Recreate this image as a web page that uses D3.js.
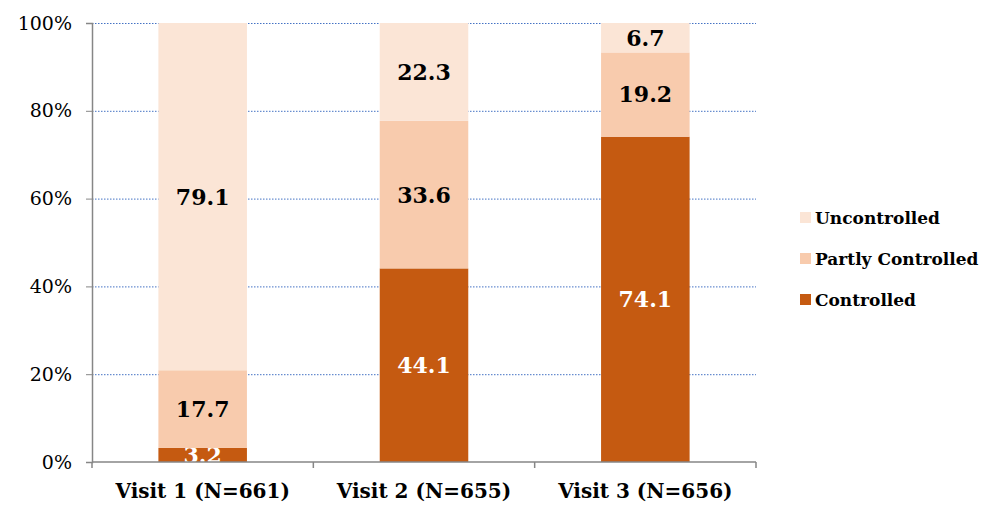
<!DOCTYPE html>
<meta charset="utf-8">
<head>
    <script src="https://d3js.org/d3.v7.min.js"></script>
    <style>
        body { margin: 0; background: #fff; }
        .grid line { stroke: #4472C4; stroke-dasharray: 1.5,1.5; }
        text { font-family: "DejaVu Serif", serif; }
    </style>
</head>
<body>
<div id="graph"></div>
<script>
    // data
    var visits = ["Visit 1 (N=661)", "Visit 2 (N=655)", "Visit 3 (N=656)"];
    var controlled = [3.2, 44.1, 74.1];
    var partly = [17.7, 33.6, 19.2];
    var uncontrolled = [79.1, 22.3, 6.7];
    var seriesNames = ["Controlled", "Partly Controlled", "Uncontrolled"];
    var yTicks = [0, 20, 40, 60, 80, 100];

    var colors = {"Controlled": "#C55A11", "Partly Controlled": "#F8CBAD", "Uncontrolled": "#FBE5D6"};
    var labelColors = {"Controlled": "#fff", "Partly Controlled": "#000", "Uncontrolled": "#000"};

    var margin = {top: 23, right: 230, bottom: 44, left: 92},
        width = 986 - margin.left - margin.right,
        height = 506 - margin.top - margin.bottom;

    var svg = d3.select("#graph")
      .append("svg")
        .attr("width", 986)
        .attr("height", 506)
      .append("g")
        .attr("transform", "translate(" + margin.left + "," + margin.top + ")");

    var table = visits.map(function(v, i) {
        return {visit: v, "Controlled": controlled[i], "Partly Controlled": partly[i], "Uncontrolled": uncontrolled[i]};
    });
    var stacked = d3.stack().keys(seriesNames)(table);

    var x = d3.scaleBand()
        .domain(visits)
        .range([0, width])
        .paddingInner(0.6)
        .paddingOuter(0.3);

    var y = d3.scaleLinear()
        .domain([0, 100])
        .range([height, 0]);

    // grid lines
    svg.append("g")
        .attr("class", "grid")
        .call(d3.axisLeft(y).tickValues(yTicks.slice(1)).tickSize(-width).tickFormat(""))
        .call(function(g) { g.select(".domain").remove(); });

    svg.append("defs").append("clipPath").attr("id", "plotclip")
      .append("rect").attr("width", width).attr("height", height);

    // bars
    var layers = svg.append("g").attr("clip-path", "url(#plotclip)")
        .selectAll("g.layer")
        .data(stacked)
        .enter().append("g")
        .attr("class", "layer")
        .attr("fill", function(d) { return colors[d.key]; });

    layers.selectAll("rect")
        .data(function(d) { return d; })
        .enter().append("rect")
        .attr("x", function(d) { return x(d.data.visit); })
        .attr("y", function(d) { return y(d[1]); })
        .attr("width", x.bandwidth())
        .attr("height", function(d) { return y(d[0]) - y(d[1]); });

    layers.selectAll("text")
        .data(function(d) { return d.map(function(p) { p.key = d.key; return p; }); })
        .enter().append("text")
        .attr("x", function(d) { return x(d.data.visit) + x.bandwidth() / 2; })
        .attr("y", function(d) { return (y(d[0]) + y(d[1])) / 2; })
        .attr("dy", "0.36em")
        .attr("text-anchor", "middle")
        .style("font-size", "22px")
        .style("font-weight", "bold")
        .attr("fill", function(d) { return labelColors[d.key]; })
        .text(function(d) { return (d[1] - d[0]).toFixed(1); });

    // y axis
    var yAxis = svg.append("g")
        .call(d3.axisLeft(y).tickValues(yTicks).tickSize(6).tickPadding(14).tickFormat(function(d) { return d + "%"; }));
    yAxis.selectAll("text").style("font-size", "19px").attr("fill", "#000").style("font-family", "DejaVu Serif");
    yAxis.selectAll("line").attr("stroke", "#868686");
    yAxis.select(".domain").attr("stroke", "#868686").attr("stroke-width", 1.5);

    // x axis
    var xAxis = svg.append("g")
        .attr("transform", "translate(0," + height + ")")
        .call(d3.axisBottom(x).tickSize(0).tickPadding(22));
    xAxis.select(".domain").attr("stroke", "#868686").attr("stroke-width", 1.5)
        .attr("d", "M0,0H" + width);
    xAxis.selectAll("text").style("font-size", "20px").style("font-weight", "bold").attr("fill", "#000")
        .style("font-family", "DejaVu Serif");
    // category boundary ticks
    xAxis.selectAll("line.bound")
        .data(d3.range(visits.length + 1))
        .enter().append("line")
        .attr("class", "bound")
        .attr("x1", function(i) { return i * x.step(); })
        .attr("x2", function(i) { return i * x.step(); })
        .attr("y1", 0).attr("y2", 6)
        .attr("stroke", "#868686").attr("stroke-width", 1.5);

    // legend
    var legend = svg.append("g")
        .attr("transform", "translate(" + (width + 44) + ",0)");
    var legendOrder = ["Uncontrolled", "Partly Controlled", "Controlled"];
    var items = legend.selectAll("g")
        .data(legendOrder)
        .enter().append("g")
        .attr("transform", function(d, i) { return "translate(0," + (195 + i * 41) + ")"; });
    items.append("rect")
        .attr("x", 0).attr("y", -6).attr("width", 11).attr("height", 11)
        .attr("fill", function(d) { return colors[d]; });
    items.append("text")
        .attr("x", 15).attr("dy", "0.35em")
        .style("font-size", "17px").style("font-weight", "bold")
        .text(function(d) { return d; });
</script>
</body>
